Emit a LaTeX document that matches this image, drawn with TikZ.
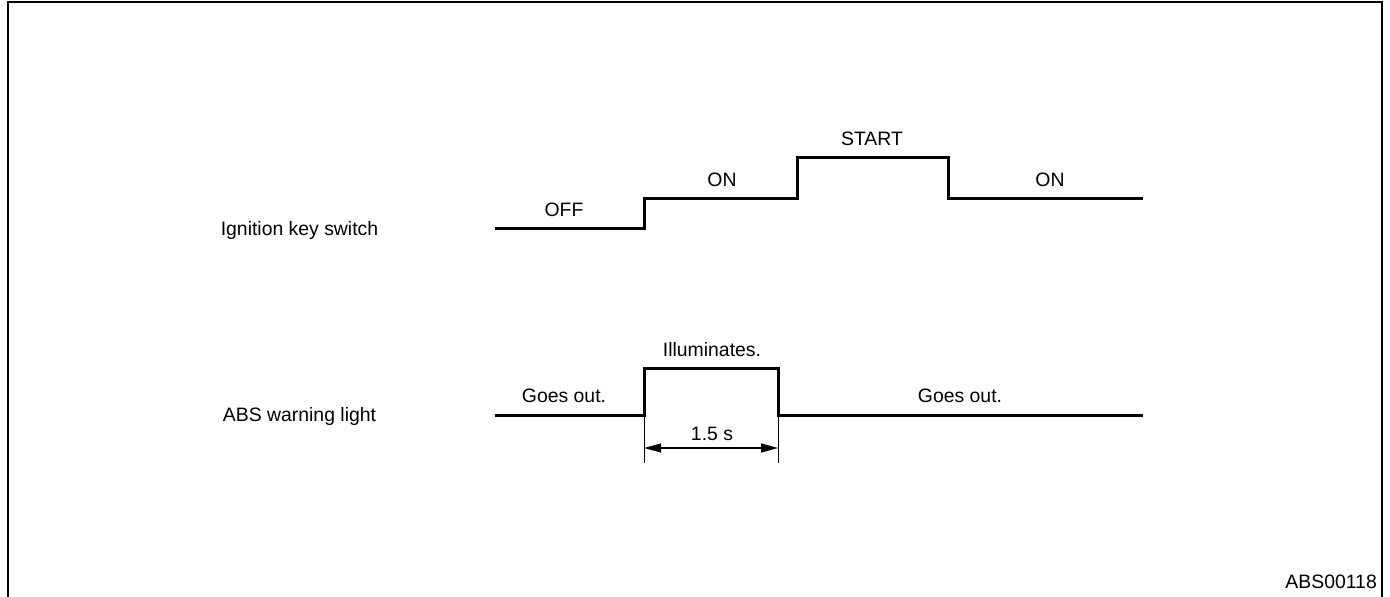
\documentclass[tikz,border=0pt]{standalone}
\usepackage{fontspec}
\setmainfont{Liberation Sans}
\usetikzlibrary{arrows.meta}
\begin{document}
\begin{tikzpicture}[x=1pt,y=-1pt,
  signal/.style={line width=3pt,line join=miter},
  lbl/.style={font=\fontsize{19.4}{23}\selectfont,inner sep=0pt},
  frameline/.style={line width=2pt},
  ext/.style={line width=1pt},
  dim/.style={line width=1.2pt,{Triangle[length=17pt,width=9pt]}-{Triangle[length=17pt,width=9pt]}}]
\useasboundingbox (0,0) rectangle (1390,597);
% frame (open at bottom)
\draw[frameline] (8,597) -- (8,2) -- (1382,2) -- (1382,597);
% ignition signal
\coordinate (i0) at (495,228);
\coordinate (i1) at (644,228);
\coordinate (i2) at (644,198);
\coordinate (i3) at (797,198);
\coordinate (i4) at (797,157);
\coordinate (i5) at (948,157);
\coordinate (i6) at (948,198);
\coordinate (i7) at (1143,198);
\draw[signal] (i0) -- (i1) -- (i2) -- (i3) -- (i4) -- (i5) -- (i6) -- (i7);
% ABS signal
\coordinate (a0) at (495,415);
\coordinate (a1) at (644,415);
\coordinate (a2) at (644,368);
\coordinate (a3) at (778,368);
\coordinate (a4) at (778,415);
\coordinate (a5) at (1143,415);
\draw[signal] (a0) -- (a1) -- (a2) -- (a3) -- (a4) -- (a5);
% dimension
\coordinate (e1) at (644,463);
\coordinate (e2) at (778,463);
\draw[ext] (a1) -- (e1);
\draw[ext] (a4) -- (e2);
\coordinate (d1) at (644,448);
\coordinate (d2) at (778,448);
\draw[dim] (d1) -- (d2);
% labels
\node[lbl] (ign) at (299.5,230) {Ignition key switch};
\node[lbl] (abs) at (299.5,416) {ABS warning light};
\node[lbl] (off) at (564,210) {OFF};
\node[lbl] (on1) at (722,180) {ON};
\node[lbl] (start) at (872,139) {START};
\node[lbl] (on2) at (1050,180) {ON};
\node[lbl] (ill) at (712,350) {Illuminates.};
\node[lbl] (go1) at (564,396) {Goes out.};
\node[lbl] (go2) at (960,396) {Goes out.};
\node[lbl] (t) at (712,434) {1.5 s};
\node[lbl,anchor=east] (code) at (1377,582) {ABS00118};
\end{tikzpicture}
\end{document}
